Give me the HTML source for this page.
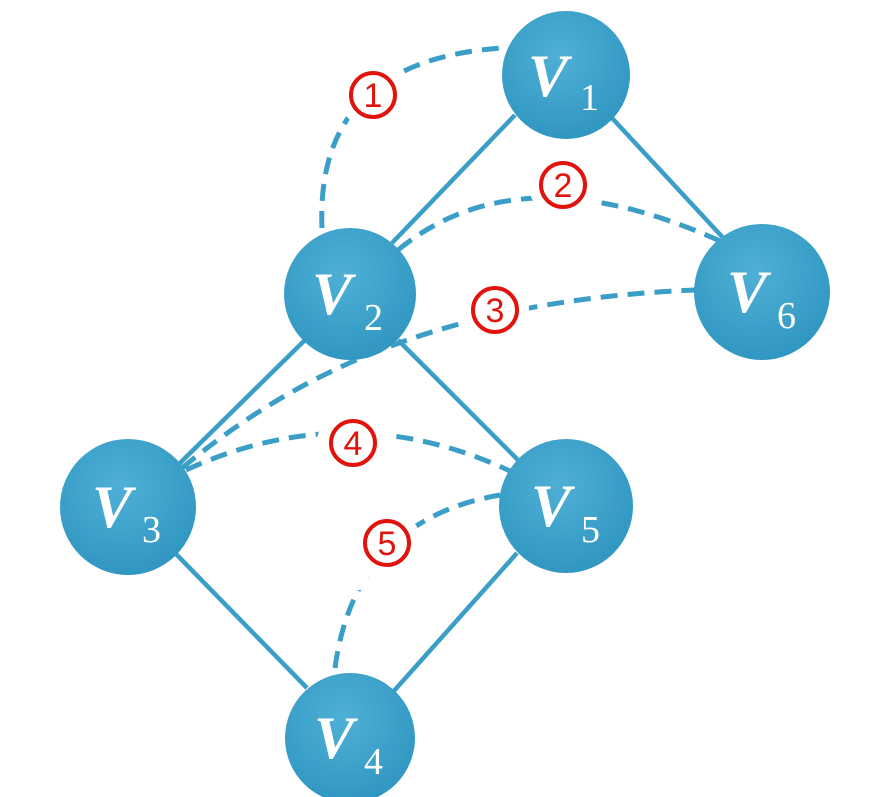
<!DOCTYPE html>
<html><head><meta charset="utf-8"><style>
html,body{margin:0;padding:0;background:#fff;}
svg{display:block;}
</style></head><body>
<svg width="872" height="797" viewBox="0 0 872 797" xmlns="http://www.w3.org/2000/svg">
<defs>
<radialGradient id="g" cx="45%" cy="35%" r="70%">
<stop offset="0" stop-color="#4fb0d6"/><stop offset="1" stop-color="#2e95c0"/>
</radialGradient>
</defs>
<g stroke="#3a9ec6" stroke-width="4.5" fill="none">
<line x1="515" y1="115" x2="392" y2="243"/>
<line x1="612" y1="118" x2="727" y2="242"/>
<line x1="305" y1="340" x2="178" y2="465"/>
<line x1="398" y1="340" x2="522" y2="464"/>
<line x1="175" y1="553" x2="307" y2="688"/>
<line x1="517" y1="553" x2="393" y2="692"/>
</g>
<g stroke="#3a9ec6" stroke-width="5" fill="none" stroke-dasharray="17,10">
<path d="M322,228 Q315,60 503,48"/>
<path d="M398,250 Q520,150 722,242"/>
<path d="M182,468 C300,370 450,300 695,290"/>
<path d="M186,470 Q350,395 512,472"/>
<path d="M335,668 Q355,520 500,495"/>
</g>
<g fill="#fff" stroke="none">
<circle cx="373" cy="95" r="34"/>
<circle cx="563" cy="185" r="34"/>
<circle cx="495" cy="310" r="34"/>
<circle cx="353" cy="443" r="36"/>
<circle cx="387" cy="543" r="34"/>
<rect x="338" y="560" width="30" height="30"/>
</g>
<g fill="none" stroke="#e0140c" stroke-width="4">
<circle cx="373" cy="95" r="22"/>
<circle cx="563" cy="185" r="22"/>
<circle cx="495" cy="310" r="22"/>
<circle cx="353" cy="443" r="22"/>
<circle cx="387" cy="543" r="22"/>
</g>
<g fill="#e0140c" font-family="Liberation Sans, sans-serif" font-size="34" text-anchor="middle">
<text x="373" y="107">1</text>
<text x="563" y="197">2</text>
<text x="495" y="322">3</text>
<text x="353" y="455">4</text>
<text x="387" y="555">5</text>
</g>
<g fill="url(#g)">
<circle cx="566" cy="75" r="64"/>
<circle cx="350" cy="294" r="66"/>
<circle cx="762" cy="292" r="68"/>
<circle cx="128" cy="507" r="68"/>
<circle cx="566" cy="506" r="67"/>
<circle cx="350" cy="738" r="65"/>
</g>
<g fill="#fff" font-family="Liberation Serif, serif">
<text x="528" y="96" font-size="60" font-style="italic" font-weight="bold">V</text><text x="580" y="110" font-size="38">1</text>
<text x="312" y="314" font-size="60" font-style="italic" font-weight="bold">V</text><text x="364" y="330" font-size="38">2</text>
<text x="727" y="312" font-size="60" font-style="italic" font-weight="bold">V</text><text x="777" y="328" font-size="38">6</text>
<text x="92" y="527" font-size="60" font-style="italic" font-weight="bold">V</text><text x="142" y="542" font-size="38">3</text>
<text x="531" y="526" font-size="60" font-style="italic" font-weight="bold">V</text><text x="581" y="542" font-size="38">5</text>
<text x="314" y="758" font-size="60" font-style="italic" font-weight="bold">V</text><text x="364" y="774" font-size="38">4</text>
</g>
</svg>
</body></html>
